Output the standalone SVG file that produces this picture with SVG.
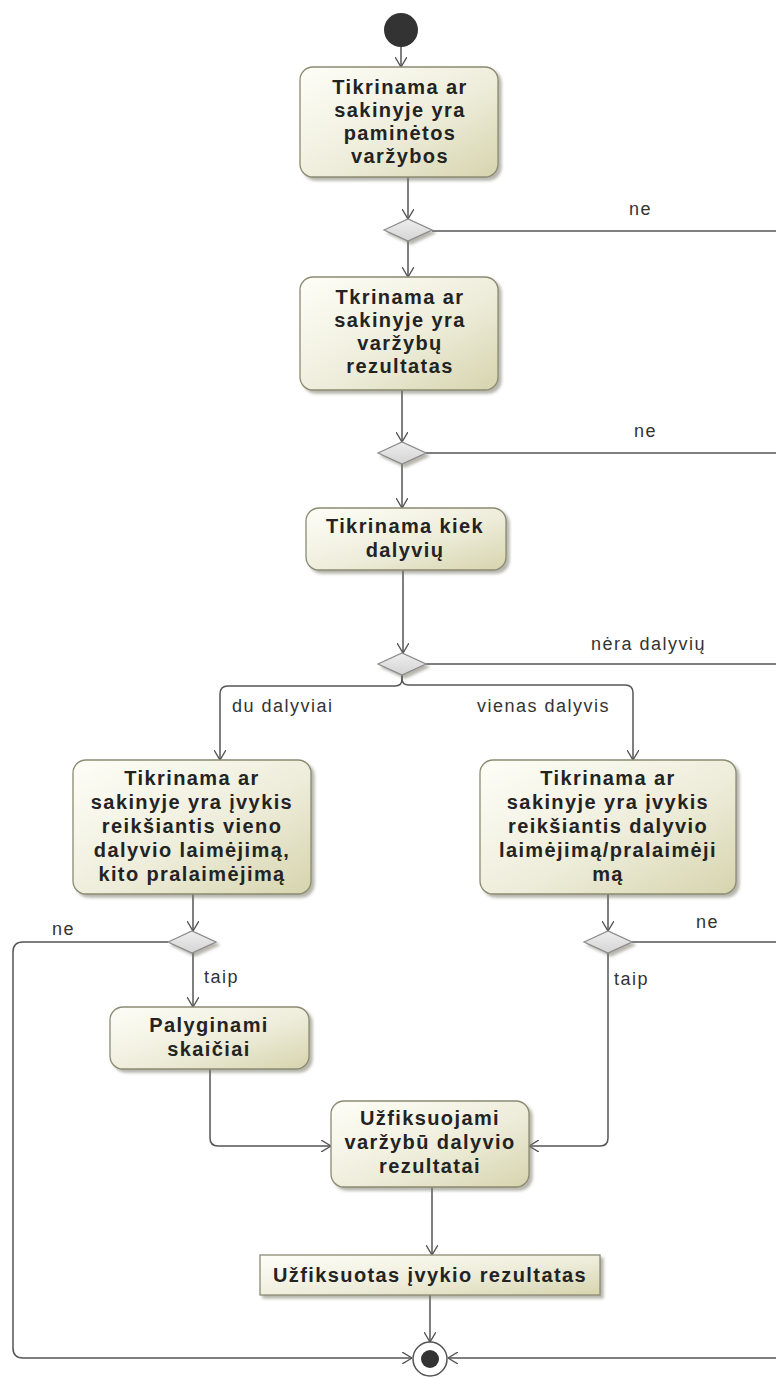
<svg xmlns="http://www.w3.org/2000/svg" width="776" height="1378" viewBox="0 0 776 1378">
  <defs>
    <linearGradient id="actFill" x1="0" y1="0" x2="1" y2="1">
      <stop offset="0" stop-color="#fefef8"/>
      <stop offset="0.55" stop-color="#eeeddb"/>
      <stop offset="1" stop-color="#d6d4ad"/>
    </linearGradient>
    <linearGradient id="decFill" x1="0" y1="0" x2="0" y2="1">
      <stop offset="0" stop-color="#eeeeee"/>
      <stop offset="1" stop-color="#d4d4d4"/>
    </linearGradient>
    <filter id="shadow" x="-10%" y="-10%" width="130%" height="140%">
      <feDropShadow dx="3" dy="3" stdDeviation="1.6" flood-color="#7a7a6a" flood-opacity="0.55"/>
    </filter>
    <marker id="arrow" viewBox="0 0 10 12" refX="10" refY="6" markerWidth="10" markerHeight="12" markerUnits="userSpaceOnUse" orient="auto">
      <path d="M0,0 L10,6 L0,12" fill="none" stroke="#555" stroke-width="1.4"/>
    </marker>
  </defs>
  <style>
    .act { fill: url(#actFill); stroke: #8c8b72; stroke-width: 1.3; filter: url(#shadow); }
    .dec { fill: url(#decFill); stroke: #8a8a8a; stroke-width: 1.2; filter: url(#shadow); }
    .txt { font-family: "Liberation Sans", Arial, sans-serif; font-size: 20px; font-weight: bold; fill: #232323; text-anchor: middle; letter-spacing: 1.4px; }
    .lbl { font-family: "Liberation Sans", Arial, sans-serif; font-size: 18px; fill: #333; letter-spacing: 1.5px; }
    .edge { fill: none; stroke: #555; stroke-width: 1.5; }
    .arr { marker-end: url(#arrow); }
  </style>

  <rect width="776" height="1378" fill="#ffffff"/>

  <!-- control flows -->
  <g id="connectors">
    <path class="edge arr" d="M401,47 V67"/>
    <path class="edge arr" d="M408,177 V219"/>
    <path class="edge arr" d="M408,241 V277"/>
    <path class="edge" d="M432,231 H774 Q784,231 784,241 V1348 Q784,1358 774,1358"/>
    <path class="edge arr" d="M402,390 V442"/>
    <path class="edge arr" d="M402,464 V508"/>
    <path class="edge" d="M426,453 H774 Q784,453 784,463"/>
    <path class="edge arr" d="M403,570 V653"/>
    <path class="edge" d="M426,664 H774 Q784,664 784,674"/>
    <path class="edge arr" d="M402,675 V679 Q402,686 395,686 H228 Q220,686 220,694 V760"/>
    <path class="edge arr" d="M402,675 V679 Q402,685 409,685 H625 Q633,685 633,693 V760"/>
    <path class="edge arr" d="M193,894 V931"/>
    <path class="edge arr" d="M168,942 H23 Q13,942 13,952 V1348 Q13,1358 23,1358 H412"/>
    <path class="edge arr" d="M193,953 V1007"/>
    <path class="edge arr" d="M210,1069 V1138 Q210,1146 218,1146 H331"/>
    <path class="edge arr" d="M608,894 V931"/>
    <path class="edge" d="M632,942 H774 Q784,942 784,952"/>
    <path class="edge arr" d="M608,953 V1138 Q608,1146 600,1146 H529"/>
    <path class="edge arr" d="M432,1187 V1255"/>
    <path class="edge arr" d="M430,1295 V1342"/>
    <path class="edge arr" d="M774,1358 H448"/>
  </g>

  <!-- guard labels -->
  <g id="labels">
    <text class="lbl" x="629" y="215">ne</text>
    <text class="lbl" x="634" y="437">ne</text>
    <text class="lbl" x="591" y="650">nėra dalyvių</text>
    <text class="lbl" x="232" y="712">du dalyviai</text>
    <text class="lbl" x="477" y="712">vienas dalyvis</text>
    <text class="lbl" x="52" y="935">ne</text>
    <text class="lbl" x="204" y="983">taip</text>
    <text class="lbl" x="696" y="928">ne</text>
    <text class="lbl" x="614" y="985">taip</text>
  </g>

  <g id="start">
    <circle cx="401" cy="30" r="17" fill="#333"/>
  </g>

  <g id="check-competition">
    <rect class="act" x="300" y="67" width="198" height="110" rx="13"/>
    <text class="txt" x="400" y="94">Tikrinama ar</text>
    <text class="txt" x="400" y="117">sakinyje yra</text>
    <text class="txt" x="400" y="140">paminėtos</text>
    <text class="txt" x="400" y="163">varžybos</text>
  </g>

  <g id="decision-1">
    <polygon class="dec" points="384,230 408,219 432,230 408,241"/>
  </g>

  <g id="check-result">
    <rect class="act" x="300" y="277" width="198" height="113" rx="13"/>
    <text class="txt" x="400" y="304">Tkrinama ar</text>
    <text class="txt" x="400" y="327">sakinyje yra</text>
    <text class="txt" x="400" y="350">varžybų</text>
    <text class="txt" x="400" y="373">rezultatas</text>
  </g>

  <g id="decision-2">
    <polygon class="dec" points="378,453 402,442 426,453 402,464"/>
  </g>

  <g id="check-participants">
    <rect class="act" x="306" y="508" width="200" height="62" rx="13"/>
    <text class="txt" x="405" y="533">Tikrinama kiek</text>
    <text class="txt" x="405" y="557">dalyvių</text>
  </g>

  <g id="decision-3">
    <polygon class="dec" points="378,664 402,653 426,664 402,675"/>
  </g>

  <g id="check-two">
    <rect class="act" x="73" y="760" width="238" height="134" rx="13"/>
    <text class="txt" x="192" y="785">Tikrinama ar</text>
    <text class="txt" x="192" y="809">sakinyje yra įvykis</text>
    <text class="txt" x="192" y="833">reikšiantis vieno</text>
    <text class="txt" x="192" y="857">dalyvio laimėjimą,</text>
    <text class="txt" x="192" y="881">kito pralaimėjimą</text>
  </g>

  <g id="check-one">
    <rect class="act" x="480" y="760" width="256" height="134" rx="13"/>
    <text class="txt" x="608" y="785">Tikrinama ar</text>
    <text class="txt" x="608" y="809">sakinyje yra įvykis</text>
    <text class="txt" x="608" y="833">reikšiantis dalyvio</text>
    <text class="txt" x="608" y="857">laimėjimą/pralaimėji</text>
    <text class="txt" x="608" y="881">mą</text>
  </g>

  <g id="decision-4">
    <polygon class="dec" points="168,942 192,931 216,942 192,953"/>
  </g>

  <g id="decision-5">
    <polygon class="dec" points="584,942 608,931 632,942 608,953"/>
  </g>

  <g id="compare-numbers">
    <rect class="act" x="110" y="1007" width="199" height="62" rx="13"/>
    <text class="txt" x="209" y="1032">Palyginami</text>
    <text class="txt" x="209" y="1056">skaičiai</text>
  </g>

  <g id="record-results">
    <rect class="act" x="331" y="1101" width="198" height="86" rx="13"/>
    <text class="txt" x="430" y="1125">Užfiksuojami</text>
    <text class="txt" x="430" y="1149">varžybū dalyvio</text>
    <text class="txt" x="430" y="1173">rezultatai</text>
  </g>

  <g id="event-result">
    <rect class="act" x="260" y="1255" width="340" height="40"/>
    <text class="txt" x="430" y="1282">Užfiksuotas įvykio rezultatas</text>
  </g>

  <g id="final">
    <circle cx="430" cy="1359" r="17" fill="#ffffff" stroke="#555" stroke-width="1.5"/>
    <circle cx="430" cy="1359" r="9" fill="#333"/>
  </g>
</svg>
